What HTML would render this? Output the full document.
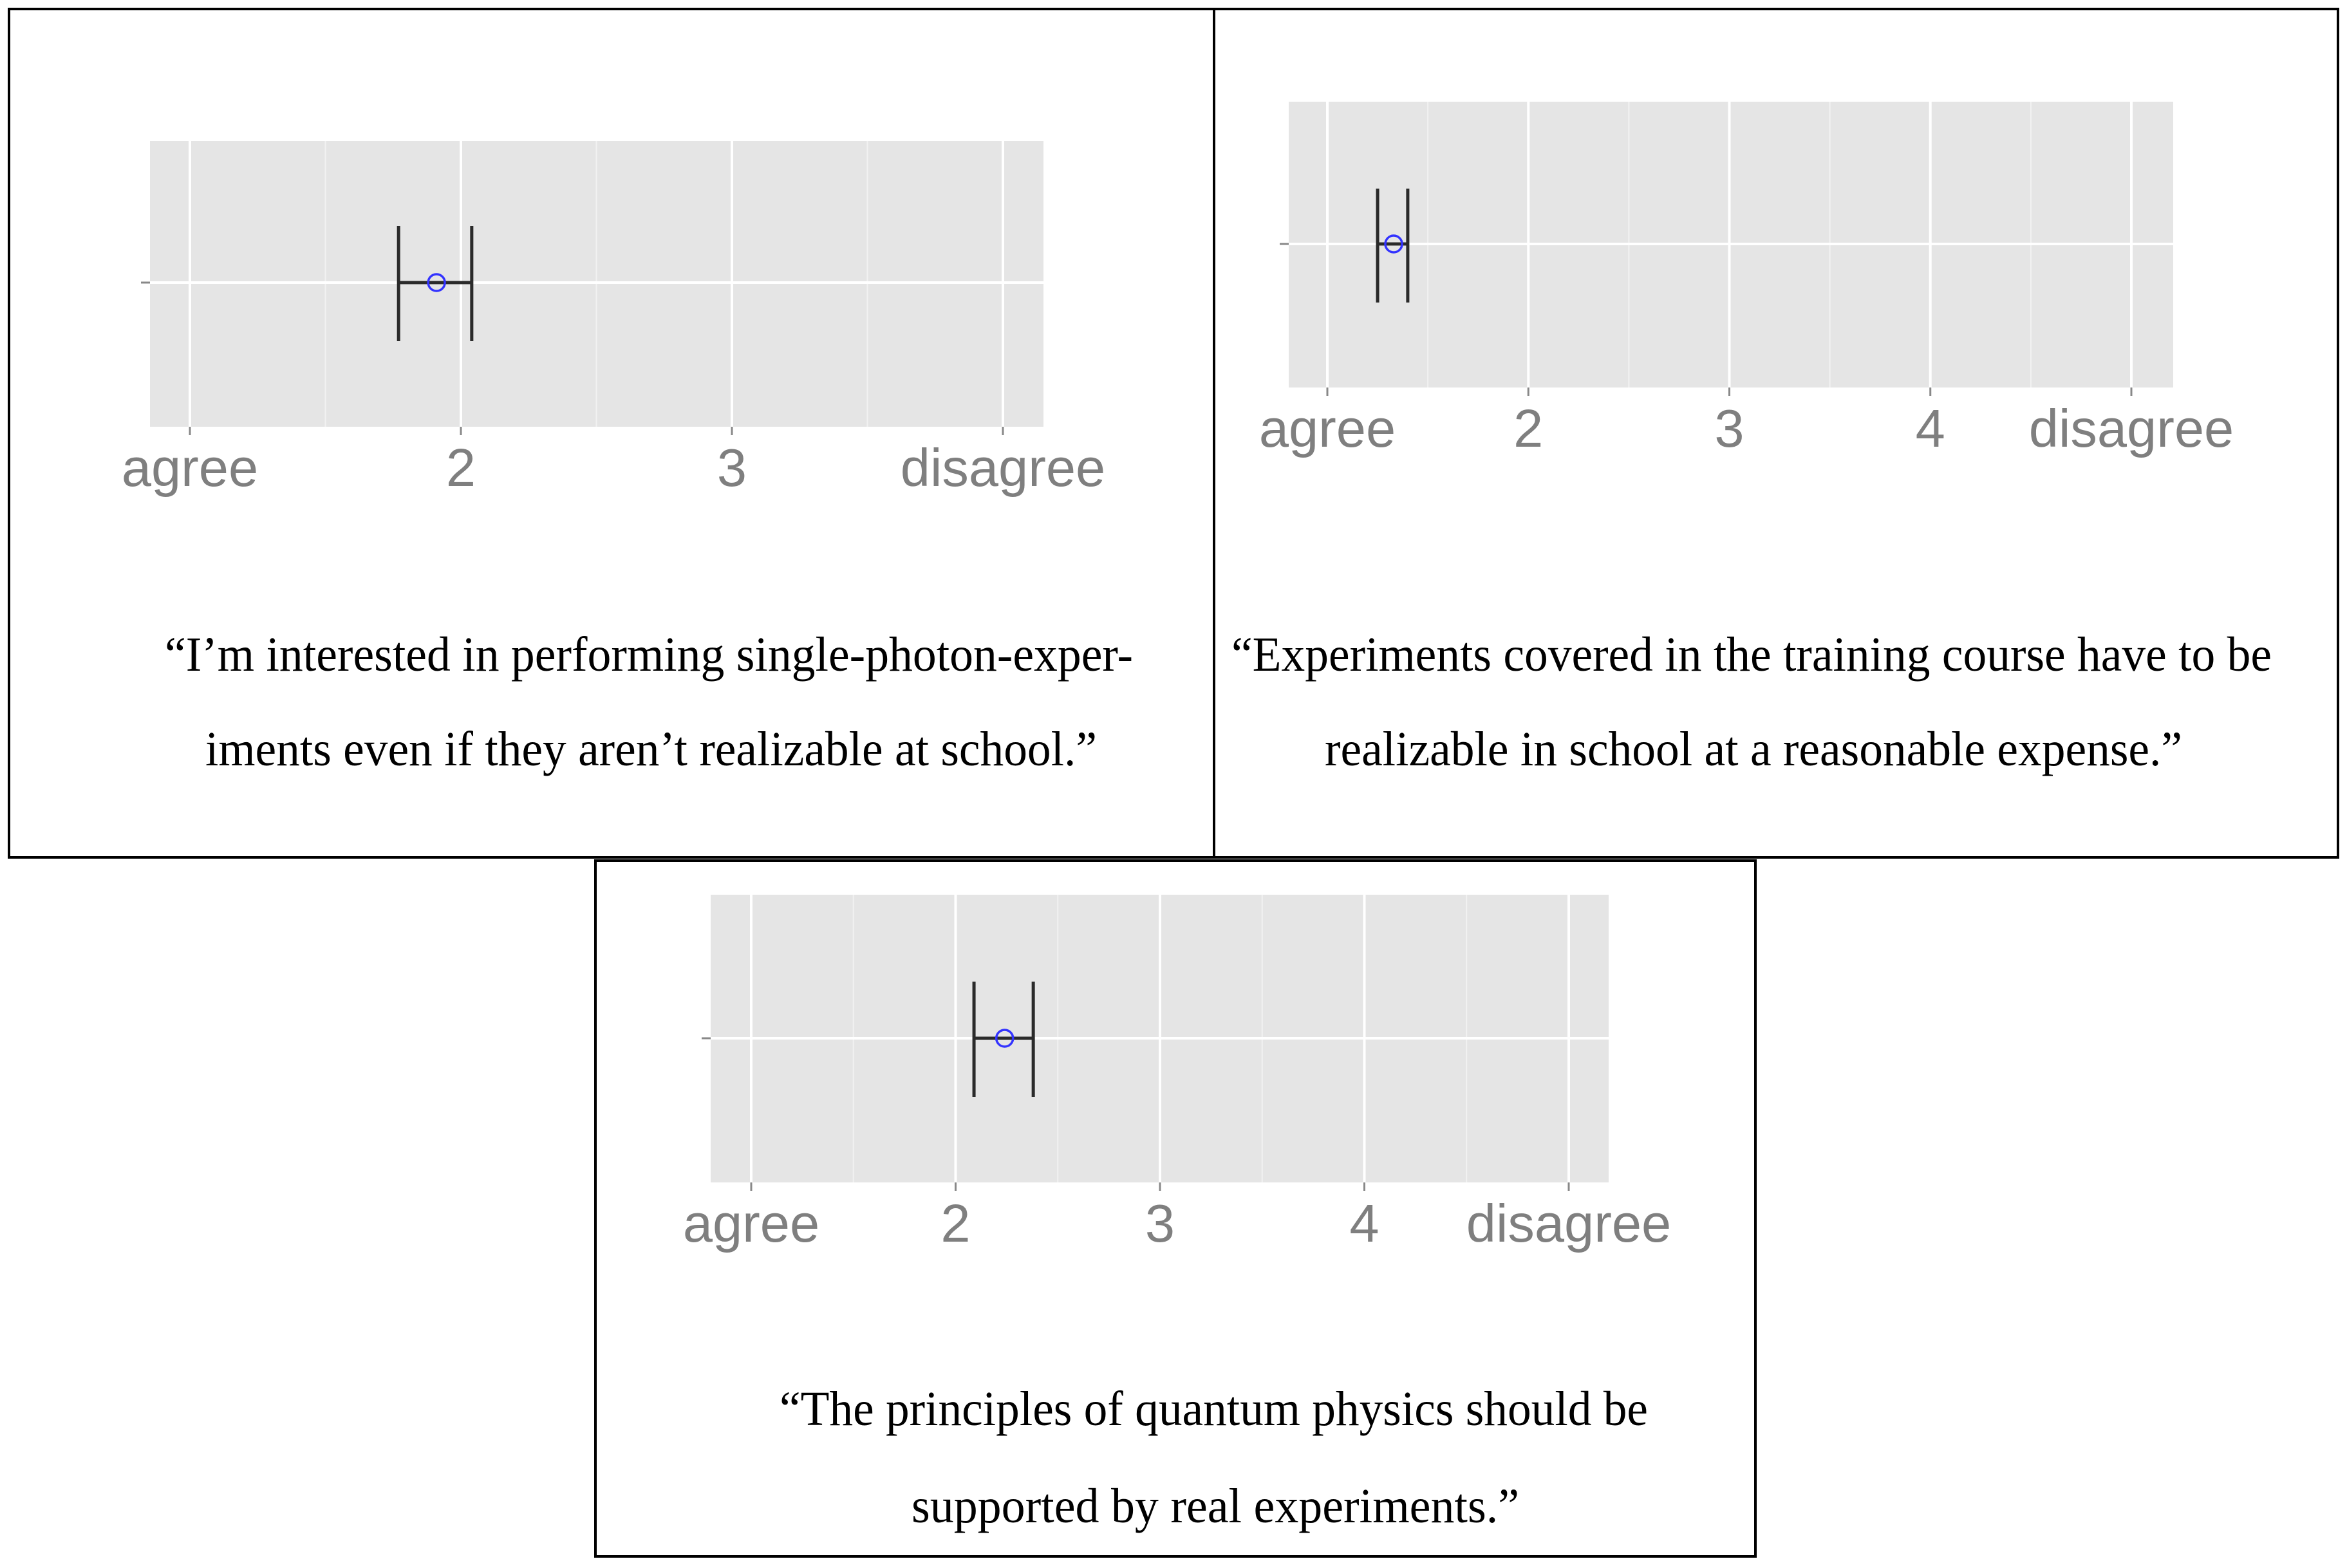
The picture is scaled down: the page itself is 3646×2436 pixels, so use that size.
<!DOCTYPE html>
<html><head><meta charset="utf-8"><style>html,body{margin:0;padding:0;background:#fff}svg{display:block}</style></head>
<body>
<svg id="fig" width="3646" height="2436" viewBox="0 0 3646 2436" xmlns="http://www.w3.org/2000/svg">
<rect x="0" y="0" width="3646" height="2436" fill="#fff"/>
<rect x="14" y="14" width="1872" height="1318" fill="none" stroke="#000" stroke-width="4"/>
<rect x="1886" y="14" width="1746" height="1318" fill="none" stroke="#000" stroke-width="4"/>
<rect x="925" y="1337" width="1802" height="1081" fill="none" stroke="#000" stroke-width="4"/>
<defs><clipPath id="clip3"><rect x="925" y="1337" width="1677" height="1081"/></clipPath></defs>
<g id="plots"></g>
<g font-family="Liberation Serif, serif" font-size="76" fill="#000">
<text x="256" y="1042" textLength="1504" lengthAdjust="spacingAndGlyphs">“I’m interested in performing single-photon-exper-</text>
<text x="319" y="1189" textLength="1385" lengthAdjust="spacingAndGlyphs">iments even if they aren’t realizable at school.”</text>
<text x="1913" y="1042" textLength="1616" lengthAdjust="spacingAndGlyphs">“Experiments covered in the training course have to be</text>
<text x="2058" y="1189" textLength="1332" lengthAdjust="spacingAndGlyphs">realizable in school at a reasonable expense.”</text>
<text x="1211" y="2214" textLength="1349" lengthAdjust="spacingAndGlyphs">“The principles of quantum physics should be</text>
<text x="1416" y="2365" textLength="944" lengthAdjust="spacingAndGlyphs">supported by real experiments.”</text>
</g>
</svg>
<script>
const tickLabels1 = ["agree","2","3","disagree"];
const tickLabels2 = ["agree","2","3","4","disagree"];
const tickLabels3 = ["agree","2","3","4","disagree"];
const means = [1.91, 1.33, 2.24];
const lowers = [1.77, 1.25, 2.09];
const uppers = [2.04, 1.40, 2.38];
const layouts = [
 {bx:233,by:219,bw:1388,bh:444,x0:295,x1:1558,yl:439,ey0:351,ey1:530,labels:tickLabels1,clip:null},
 {bx:2002,by:158,bw:1374,bh:444,x0:2062,x1:3311,yl:379,ey0:293,ey1:470,labels:tickLabels2,clip:null},
 {bx:1104,by:1390,bw:1395,bh:447,x0:1167,x1:2437,yl:1613,ey0:1525,ey1:1704,labels:tickLabels3,clip:'url(#clip3)'}
];
const NS='http://www.w3.org/2000/svg';
const root=document.getElementById('plots');
function mk(tag,attrs,parent){const e=document.createElementNS(NS,tag);for(const k in attrs)e.setAttribute(k,attrs[k]);parent.appendChild(e);return e;}
layouts.forEach((L,i)=>{
 const n=L.labels.length;
 const xs=v=>L.x0+(v-1)*(L.x1-L.x0)/(n-1);
 const g=mk('g',{},root);
 
 
 if(L.clip)g.setAttribute('clip-path',L.clip);
 const bg=mk('rect',{x:L.bx,y:L.by,width:L.bw,height:L.bh,fill:'#e5e5e5'},g);
 
 
 for(let k=0;k<n;k++){
  if(k<n-1){const mx=xs(k+1.5);const m=mk('line',{x1:mx,x2:mx,y1:L.by,y2:L.by+L.bh,stroke:'#f2f2f2','stroke-width':2},g);
   }
  const x=xs(k+1);
  const gl=mk('line',{x1:x,x2:x,y1:L.by,y2:L.by+L.bh,stroke:'#fff','stroke-width':4},g);
  
  const tk=mk('line',{x1:x,x2:x,y1:L.by+L.bh,y2:L.by+L.bh+13,stroke:'#888','stroke-width':3},g);
  
  const t=mk('text',{x:x,y:L.by+L.bh+92,'text-anchor':'middle','font-family':'Liberation Sans, sans-serif','font-size':83,fill:'#7f7f7f'},g);
  t.textContent=L.labels[k];
  
 }
 const h=mk('line',{x1:L.bx,x2:L.bx+L.bw,y1:L.yl,y2:L.yl,stroke:'#fff','stroke-width':4},g);
 
 const yt=mk('line',{x1:L.bx-14,x2:L.bx,y1:L.yl,y2:L.yl,stroke:'#888','stroke-width':3},g);
 
 const lo=xs(lowers[i]),hi=xs(uppers[i]),mu=xs(means[i]);
 const eb=mk('path',{d:`M${lo},${L.ey0}V${L.ey1}M${hi},${L.ey0}V${L.ey1}M${lo},${L.yl}H${hi}`,stroke:'#2a2a2a','stroke-width':5,fill:'none'},g);
 
 const c=mk('circle',{cx:mu,cy:L.yl,r:13,fill:'none',stroke:'#3333ff','stroke-width':3.5},g);
 
});
</script>
</body></html>
